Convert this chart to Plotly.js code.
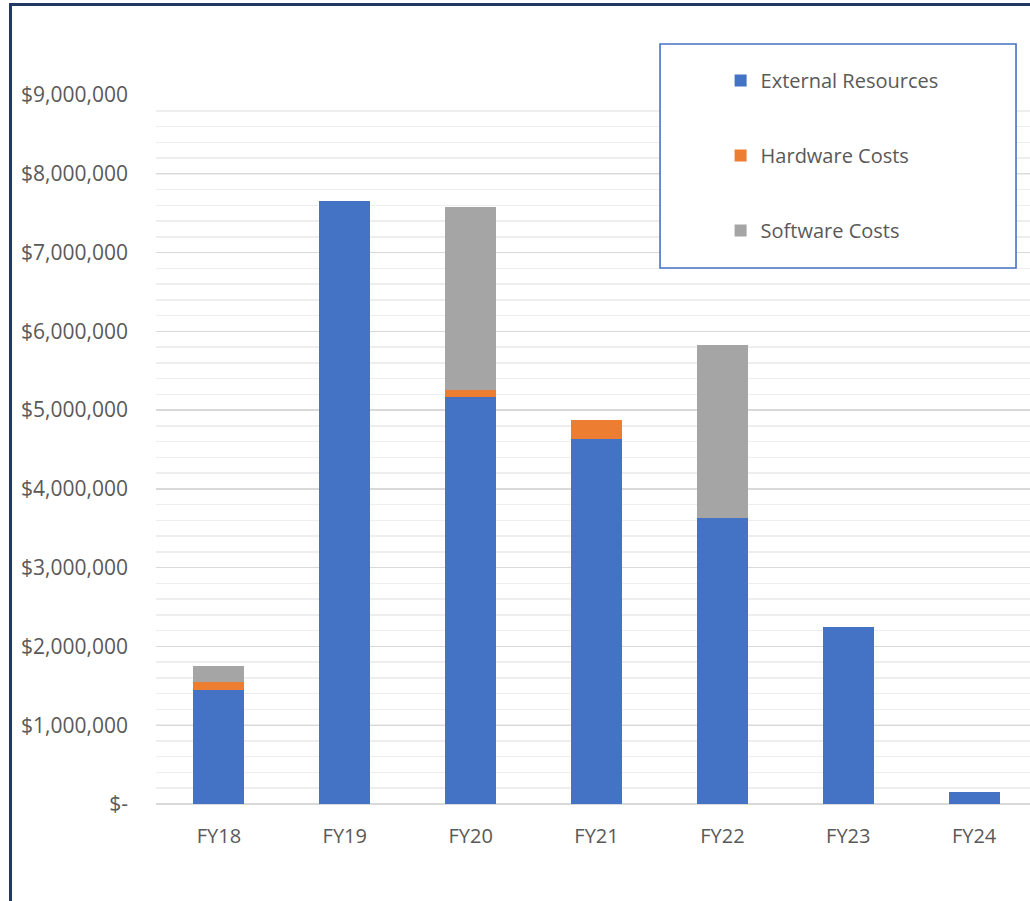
<!DOCTYPE html>
<html>
<head>
<meta charset="utf-8">
<script src="https://cdn.plot.ly/plotly-3.0.1.min.js"></script>
<style>
  html, body { margin: 0; padding: 0; background: #fff; overflow: hidden; }
  #chart { position: absolute; left: 0; top: 0; width: 1030px; height: 901px; }
  #frame { position: absolute; left: 9px; top: 3px; width: 1100px; height: 1000px;
           border: 3px solid #1F3864; pointer-events: none; box-sizing: border-box; }
</style>
</head>
<body>
<div id="chart"></div>
<div id="frame"></div>
<script>
const categories = ['FY18', 'FY19', 'FY20', 'FY21', 'FY22', 'FY23', 'FY24'];
const externalResources = [1450000, 7650000, 5170000, 4630000, 3630000, 2250000, 150000];
const hardwareCosts     = [105000, 0, 80000, 245000, 0, 0, 0];
const softwareCosts     = [200000, 0, 2330000, 0, 2195000, 0, 0];
const seriesNames = ['External Resources', 'Hardware Costs', 'Software Costs'];
const yTickValues = [0, 1000000, 2000000, 3000000, 4000000, 5000000, 6000000, 7000000, 8000000, 9000000];
const yTickLabels = ['$-', '$1,000,000', '$2,000,000', '$3,000,000', '$4,000,000', '$5,000,000',
                     '$6,000,000', '$7,000,000', '$8,000,000', '$9,000,000'];

const colors = ['#4472C4', '#ED7D31', '#A5A5A5'];
const seriesValues = [externalResources, hardwareCosts, softwareCosts];

const traces = seriesValues.map((vals, i) => ({
  type: 'bar',
  name: seriesNames[i],
  x: categories,
  y: vals,
  legendgroup: 'g' + i,
  marker: { color: colors[i], line: { width: 0 } },
  hoverinfo: 'x+y+name'
}));

const layout = {
  width: 1030, height: 901, autosize: false,
  margin: { l: 156, r: 0, t: 95, b: 97 },
  paper_bgcolor: '#ffffff', plot_bgcolor: '#ffffff',
  barmode: 'stack', bargap: 0.595,
  font: { family: 'Open Sans, sans-serif', size: 20, color: '#595959' },
  xaxis: {
    range: [-0.5, 6.444],
    showgrid: false, showline: false, zeroline: false,
    ticks: '', ticklabelstandoff: 18,
    tickfont: { size: 20, color: '#595959' },
    fixedrange: true
  },
  yaxis: {
    range: [0, 9000000],
    tickvals: yTickValues, ticktext: yTickLabels,
    showgrid: true, gridcolor: '#D9D9D9', gridwidth: 1.3,
    zeroline: true, zerolinecolor: '#D9D9D9', zerolinewidth: 1.6,
    showline: false, ticks: '', ticklabelstandoff: 27,
    tickfont: { size: 21, color: '#595959' },
    minor: { dtick: 200000, showgrid: true, gridcolor: '#EEEEEE', gridwidth: 1.5 },
    fixedrange: true
  },
  showlegend: true,
  legend: {
    x: 0.646, y: 1.048, xanchor: 'left', yanchor: 'top',
    bgcolor: 'rgba(0,0,0,0)', borderwidth: 0,
    traceorder: 'grouped', tracegroupgap: 46,
    font: { size: 20, color: '#595959' }
  },
  shapes: [{
    type: 'rect', xref: 'paper', yref: 'paper', layer: 'above',
    x0: 0.5767, x1: 0.984, y0: 0.756, y1: 1.0719,
    fillcolor: '#ffffff', line: { color: '#4472C4', width: 1.6 }
  }]
};

Plotly.newPlot('chart', traces, layout, { displayModeBar: false, staticPlot: true });
</script>
</body>
</html>
